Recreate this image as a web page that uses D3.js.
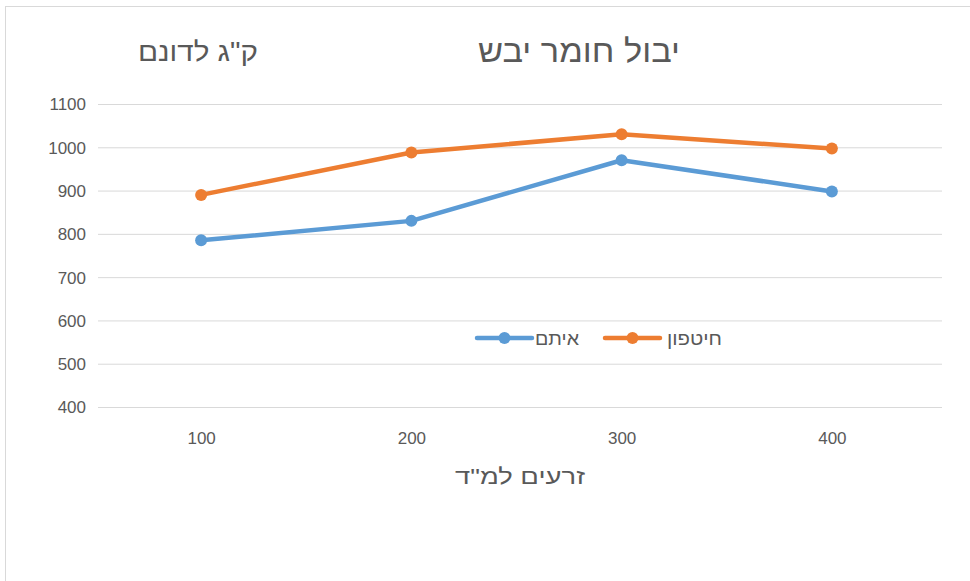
<!DOCTYPE html>
<html><head><meta charset="utf-8">
<script src="https://cdn.jsdelivr.net/npm/d3@7"></script>
<style>body{margin:0;background:#fff;}svg{display:block;font-family:"Liberation Sans","DejaVu Sans",sans-serif;}</style>
</head><body><svg id="c" width="970" height="581"></svg>
<script>
const categories = ["100","200","300","400"];
const seriesNames = ["חיטפון","איתם"];
const hitafonValues = [890, 988, 1030, 997];
const eitamValues = [785, 830, 970, 898];
const yTicks = [400,500,600,700,800,900,1000,1100];
const colors = ["#ed7d31","#5b9bd5"];
const series = [
  {name: seriesNames[0], values: hitafonValues, color: colors[0]},
  {name: seriesNames[1], values: eitamValues, color: colors[1]}
];
const svg = d3.select("#c");
svg.append("rect").attr("x",5.5).attr("y",6.5).attr("width",990).attr("height",600)
  .attr("fill","#fff").attr("stroke","#d9d9d9");
const x = d3.scalePoint().domain(categories).range([96,937]).padding(0.5);
const y = d3.scaleLinear().domain([400,1100]).range([407,104]);
const g = svg.append("g");
g.selectAll("line.grid").data(yTicks).join("line")
  .attr("x1",98).attr("x2",942).attr("y1",d=>y(d)+0.5).attr("y2",d=>y(d)+0.5)
  .attr("stroke","#d9d9d9").attr("stroke-width",1);
const yAxis = d3.axisLeft(y).tickValues(yTicks).tickFormat(d3.format("d")).tickSize(0).tickPadding(0);
const ya = svg.append("g").attr("transform","translate(86,0)").call(yAxis);
ya.select(".domain").remove();
ya.selectAll("text").attr("fill","#595959").style("font-size","17px").attr("dy","0.35em");
const xAxis = d3.axisBottom(x).tickSize(0).tickPadding(0);
const xa = svg.append("g").attr("transform","translate(0,438)").call(xAxis);
xa.select(".domain").remove();
xa.selectAll("text").attr("fill","#595959").style("font-size","17px").attr("dy","0.35em");
const line = d3.line().x((d,i)=>x(categories[i])).y(d=>y(d));
series.forEach(s=>{
  g.append("path").attr("d",line(s.values)).attr("fill","none")
   .attr("stroke",s.color).attr("stroke-width",4.5).attr("stroke-linejoin","round").attr("stroke-linecap","round");
  g.selectAll(null).data(s.values).join("circle")
   .attr("cx",(d,i)=>x(categories[i])).attr("cy",d=>y(d)).attr("r",6).attr("fill",s.color);
});
function hText(xc, yb, size, len, txt){
  svg.append("text").attr("x",xc).attr("y",yb).attr("text-anchor","middle")
    .attr("fill","#595959").style("font-size",size+"px")
    .attr("textLength",len).attr("lengthAdjust","spacingAndGlyphs").text(txt);
}
hText(579, 62, 32, 202, "יבול חומר יבש");
hText(198, 61, 27, 120, "ק\"ג לדונם");
hText(520, 484, 22, 130, "זרעים למ\"ד");
const legendItems = [
  {s: series[0], lx: 605, tx: 722, len: 55},
  {s: series[1], lx: 477, tx: 579, len: 44}
];
const ly = 338;
legendItems.forEach(it=>{
  svg.append("line").attr("x1",it.lx).attr("x2",it.lx+55).attr("y1",ly).attr("y2",ly)
    .attr("stroke",it.s.color).attr("stroke-width",4.5).attr("stroke-linecap","round");
  svg.append("circle").attr("cx",it.lx+27.5).attr("cy",ly).attr("r",6).attr("fill",it.s.color);
  svg.append("text").attr("x",it.tx).attr("y",ly+7).attr("text-anchor","end")
    .attr("fill","#595959").style("font-size","19px")
    .attr("textLength",it.len).attr("lengthAdjust","spacingAndGlyphs").text(it.s.name);
});
</script></body></html>
